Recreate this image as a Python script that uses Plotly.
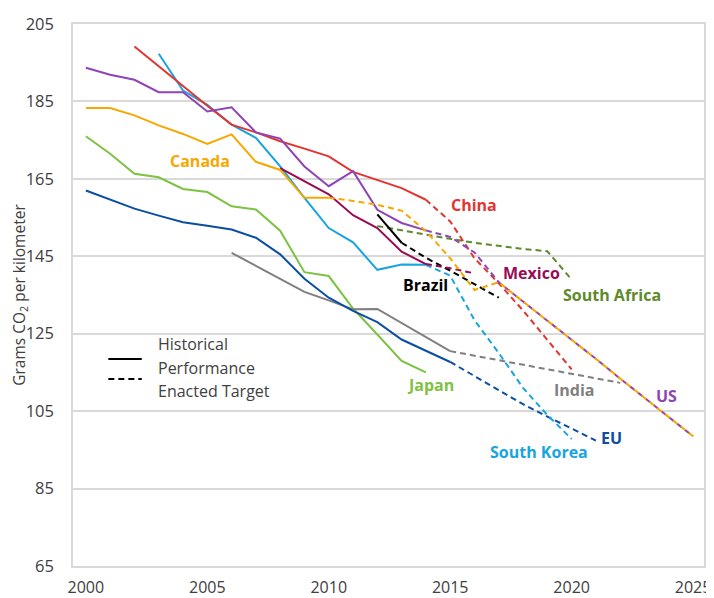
import plotly.graph_objects as go

FONT = "Open Sans"
GRID = "#d9d9d9"
TXT = "#404040"

# DATA ---------------------------------------------------------------
us_hist_years = list(range(2000, 2015))
us_hist = [193.7, 191.9, 190.6, 187.4, 187.4, 182.4, 183.5, 177.0, 175.4, 168.2,
           163.1, 167.0, 157.0, 153.6, 151.7]
us_target_years = list(range(2014, 2026))
us_target = [151.7, 150.0, 146.0, 138.3, 133.3, 128.4, 123.5, 118.5, 113.4, 108.4,
             103.4, 98.5]

canada_hist_years = list(range(2000, 2011))
canada_hist = [183.3, 183.3, 181.4, 178.8, 176.6, 174.0, 176.5, 169.4, 167.3, 160.1, 160.1]
canada_target_years = list(range(2010, 2026))
canada_target = [160.1, 159.3, 158.3, 156.8, 151.5, 144.5, 136.3, 138.3, 133.3, 128.4,
                 123.5, 118.5, 113.4, 108.4, 103.4, 98.5]

china_hist_years = list(range(2002, 2015))
china_hist = [199.2, 194.2, 189.0, 183.9, 179.0, 177.0, 174.7, 172.8, 170.8, 166.8,
              164.8, 162.6, 159.6]
china_target_years = list(range(2014, 2021))
china_target = [159.6, 154.0, 144.5, 138.0, 131.0, 123.5, 115.8]

korea_hist_years = list(range(2003, 2015))
korea_hist = [197.3, 187.8, 184.1, 179.0, 175.6, 168.2, 160.1, 152.3, 148.6, 141.5,
              142.9, 142.8]
korea_target_years = list(range(2014, 2021))
korea_target = [142.8, 140.0, 128.5, 120.0, 111.0, 104.0, 97.8]

eu_hist_years = list(range(2000, 2016))
eu_hist = [162.0, 159.6, 157.3, 155.5, 153.8, 152.9, 151.9, 149.8, 145.5, 139.2,
           134.3, 130.9, 128.0, 123.5, 120.7, 117.7]
eu_target_years = list(range(2015, 2022))
eu_target = [117.7, 114.0, 110.3, 106.8, 103.6, 100.4, 97.4]

india_hist_years = list(range(2006, 2016))
india_hist = [145.9, 142.5, 139.2, 135.8, 133.6, 131.3, 131.4, 127.8, 124.2, 120.5]
india_target_years = [2015, 2022]
india_target = [120.5, 112.3]

japan_hist_years = list(range(2000, 2015))
japan_hist = [176.0, 171.5, 166.3, 165.4, 162.4, 161.6, 157.9, 157.1, 151.6, 140.9,
              139.9, 131.5, 124.8, 118.0, 115.0]

mexico_hist_years = list(range(2008, 2015))
mexico_hist = [167.8, 164.4, 161.0, 155.6, 152.3, 146.2, 143.0]
mexico_target_years = [2014, 2015, 2016]
mexico_target = [143.0, 141.9, 140.6]

brazil_hist_years = [2012, 2013]
brazil_hist = [155.8, 148.5]
brazil_target_years = list(range(2013, 2018))
brazil_target = [148.5, 144.6, 141.3, 137.7, 134.3]

safrica_target_years = list(range(2012, 2021))
safrica_target = [152.8, 151.6, 150.6, 149.5, 148.5, 147.7, 146.9, 146.3, 139.0]

# name, colour, hist years, hist values, target years, target values, label x, label y
series = [
    ("Japan", "#7dc242", japan_hist_years, japan_hist, None, None, 2014.2, 111.7),
    ("India", "#7f7f7f", india_hist_years, india_hist, india_target_years, india_target, 2020.1, 110.5),
    ("EU", "#0b4ea2", eu_hist_years, eu_hist, eu_target_years, eu_target, 2021.65, 98.0),
    ("South Korea", "#18a4e0", korea_hist_years, korea_hist, korea_target_years, korea_target, 2018.65, 94.4),
    ("South Africa", "#5e8a2a", None, None, safrica_target_years, safrica_target, 2021.65, 134.9),
    ("Brazil", "#000000", brazil_hist_years, brazil_hist, brazil_target_years, brazil_target, 2014.0, 137.7),
    ("Mexico", "#980c55", mexico_hist_years, mexico_hist, mexico_target_years, mexico_target, 2018.35, 140.6),
    ("China", "#e3342f", china_hist_years, china_hist, china_target_years, china_target, 2016.0, 158.2),
    ("US", "#8e44b5", us_hist_years, us_hist, us_target_years, us_target, 2023.9, 109.0),
    ("Canada", "#f7a800", canada_hist_years, canada_hist, canada_target_years, canada_target, 2004.7, 169.5),
]

fig = go.Figure()

for name, color, hx, hy, tx, ty, lx, ly in series:
    if hx:
        fig.add_trace(go.Scatter(x=hx, y=hy, mode="lines", name=name, showlegend=False,
                                 line=dict(color=color, width=2)))
    if tx:
        fig.add_trace(go.Scatter(x=tx, y=ty, mode="lines", name=name + " target", showlegend=False,
                                 line=dict(color=color, width=2, dash="6px,4px")))
    fig.add_annotation(x=lx, y=ly, text=f"<b>{name}</b>", showarrow=False,
                       font=dict(family=FONT, size=16, color=color))

# legend drawn by hand, as in the original
fig.add_shape(type="line", xref="paper", yref="paper", x0=0.056, x1=0.109, y0=0.382, y1=0.382,
              line=dict(color="black", width=2))
fig.add_shape(type="line", xref="paper", yref="paper", x0=0.056, x1=0.109, y0=0.345, y1=0.345,
              line=dict(color="black", width=2, dash="6px,4px"))
for txt, yy in [("Historical", 0.41), ("Performance", 0.366), ("Enacted Target", 0.323)]:
    fig.add_annotation(x=0.131, y=yy, xref="paper", yref="paper", text=txt, showarrow=False,
                       xanchor="left", yanchor="middle", font=dict(family=FONT, size=16, color=TXT))

# the page adds an 8px body margin; margins are set so the plot box lands where the original has it
fig.update_layout(
    width=714, height=598,
    margin=dict(l=65, r=18, t=16, b=40),
    paper_bgcolor="white", plot_bgcolor="white",
    font=dict(family=FONT, size=16, color=TXT),
    showlegend=False,
)
fig.update_xaxes(range=[1999.47, 2025.45], tickvals=[2000, 2005, 2010, 2015, 2020, 2025],
                 showgrid=False, showline=True, mirror=True, linecolor=GRID, linewidth=1.5,
                 ticks="", ticklabelstandoff=6, tickfont=dict(size=16), zeroline=False,
                 automargin=False)
fig.update_yaxes(range=[65, 205], dtick=20, tick0=65,
                 showgrid=True, gridcolor=GRID, gridwidth=1.5,
                 showline=True, mirror=True, linecolor=GRID, linewidth=1.5,
                 ticks="", ticklabelstandoff=14, tickfont=dict(size=16.5), zeroline=False,
                 automargin=False,
                 title=dict(text="Grams CO<sub>2</sub> per kilometer", standoff=0,
                            font=dict(size=15.5, color=TXT)))

fig.write_html("out.html")
